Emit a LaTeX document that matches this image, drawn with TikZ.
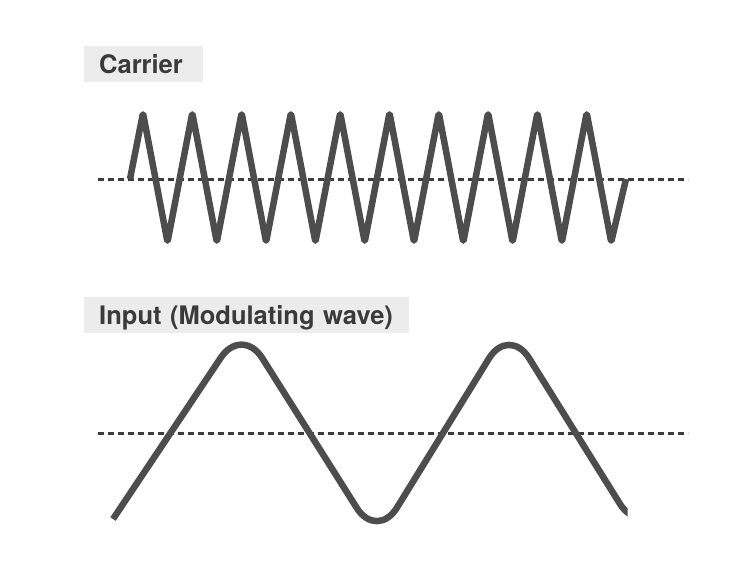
\documentclass[tikz,border=0pt]{standalone}
\definecolor{wavegray}{RGB}{77,77,77}
\definecolor{axisgray}{RGB}{60,60,60}
\definecolor{labelgray}{RGB}{58,58,58}
\definecolor{boxgray}{RGB}{236,236,236}
\usepackage{fontspec}
\setmainfont{TeX Gyre Heros}
\usepackage{tikz}
\tikzset{
  tag/.style={rectangle, fill=boxgray, text=labelgray, font=\fontsize{25.5}{30}\selectfont\bfseries,
    anchor=west, inner xsep=15pt, inner ysep=0pt, text height=18pt, text depth=0pt,
    minimum height=36pt, align=left},
  baseline/.style={axisgray, line width=3pt, dash pattern=on 6pt off 4pt},
  signal/.style={wavegray, line width=6.5pt, line join=round},
}

\begin{document}
\begin{tikzpicture}[x=1pt, y=-1pt]
\useasboundingbox (0,0) rectangle (750,563);

% carrier
\node[tag, text width=89pt] (carrier) at (84,64) {Carrier};
\draw[baseline] (98,179) -- (688,179);
\draw[signal, rounded corners=2.5pt] (130,179)
  \foreach \k in {0,...,9} { -- ({143+49.3*\k},113) -- ({167.5+49.3*\k},242) }
  -- (626,179);

% modulating wave
\node[tag, text width=295pt] (input) at (84,315) {Input (Modulating wave)};
\draw[baseline] (98,433) -- (688,433);
\begin{scope}
  \clip (0,0) rectangle (627.5,563);
  \draw[signal, rounded corners=38pt]
    (113,519) -- (242,326) -- (377,540) -- (509,326) -- (640,536) -- (700,450);
\end{scope}

\end{tikzpicture}
\end{document}
